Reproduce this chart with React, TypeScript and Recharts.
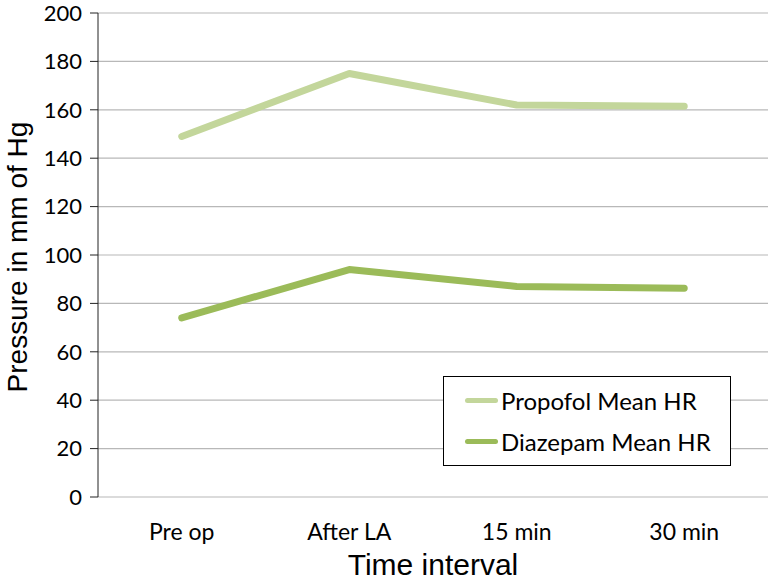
import React from 'react';
import { LineChart, Line, XAxis, YAxis, CartesianGrid, Label } from 'recharts';

const categories = ['Pre op', 'After LA', '15 min', '30 min'];
const propofolMeanHR = [149, 175, 162, 161.5];
const diazepamMeanHR = [74, 94, 87, 86.3];
const yTicks = [0, 20, 40, 60, 80, 100, 120, 140, 160, 180, 200];
const seriesNames = ['Propofol Mean HR', 'Diazepam Mean HR'];

const PROPOFOL_COLOR = '#c3d69b';
const DIAZEPAM_COLOR = '#9bbb59';
const seriesColors = [PROPOFOL_COLOR, DIAZEPAM_COLOR];

const data = categories.map((c, i) => ({
  pos: i + 0.5,
  name: c,
  propofol: propofolMeanHR[i],
  diazepam: diazepamMeanHR[i],
}));

const boundaryTicks = categories.map((_, i) => i).concat([categories.length]);
const centerTicks = categories.map((_, i) => i + 0.5);

const TICK_FONT = 'Lato, "Open Sans", sans-serif';
const TITLE_FONT = 'Arial, "Liberation Sans", sans-serif';

const LegendBox = () => (
  <div
    style={{
      position: 'absolute',
      left: 443,
      top: 376,
      width: 286,
      height: 88,
      border: '1px solid #000',
      background: '#fff',
      fontFamily: TICK_FONT,
      fontSize: 24,
      color: '#000',
    }}
  >
    {seriesNames.map((label, i) => (
      <div
        key={i}
        style={{ position: 'absolute', left: 0, top: i === 0 ? 5 : 46, height: 36, display: 'flex', alignItems: 'center' }}
      >
        <div style={{ width: 33, height: 5, background: seriesColors[i], borderRadius: 3, marginLeft: 21, marginRight: 3 }} />
        <span style={{ whiteSpace: 'nowrap' }}>{label}</span>
      </div>
    ))}
  </div>
);

export default function App() {
  return (
    <div style={{ position: 'absolute', left: 0, top: 0, width: 774, height: 580, background: '#fff' }}>
      <LineChart width={774} height={580} data={data} margin={{ top: 13, right: 6, bottom: 0, left: 0 }}>
        <CartesianGrid horizontal vertical={false} stroke="#b8b8b8" strokeWidth={1.2} />
        <XAxis
          xAxisId="pos"
          dataKey="pos"
          type="number"
          domain={[0, categories.length]}
          ticks={boundaryTicks}
          tick={false}
          tickSize={8}
          axisLine={{ stroke: '#222', strokeWidth: 1 }}
          tickLine={{ stroke: '#222', strokeWidth: 1 }}
          height={0}
        />
        <XAxis
          xAxisId="labels"
          dataKey="pos"
          type="number"
          domain={[0, categories.length]}
          ticks={centerTicks}
          tickFormatter={(v: number) => categories[Math.floor(v)]}
          axisLine={false}
          tickLine={false}
          tickMargin={21}
          tick={{ fill: '#000', fontSize: 23, fontFamily: TICK_FONT }}
          height={83}
        >
          <Label
            content={({ viewBox }: any) => {
              const cx = viewBox.x + viewBox.width / 2;
              return (
                <text x={cx} y={575} textAnchor="middle" style={{ fill: '#000', fontSize: 30, fontFamily: TITLE_FONT }}>
                  Time interval
                </text>
              );
            }}
          />
        </XAxis>
        <YAxis
          domain={[0, 200]}
          ticks={yTicks}
          width={98}
          tickSize={8}
          tickMargin={8}
          interval={0}
          axisLine={{ stroke: '#222', strokeWidth: 1 }}
          tickLine={{ stroke: '#222', strokeWidth: 1 }}
          tick={{ fill: '#000', fontSize: 22, fontFamily: TICK_FONT }}
        >
          <Label
            content={({ viewBox }: any) => {
              const cx = 27;
              const cy = viewBox.y + viewBox.height / 2 + 2;
              return (
                <text
                  x={cx}
                  y={cy}
                  transform={`rotate(-90 ${cx} ${cy})`}
                  textAnchor="middle"
                  style={{ fill: '#000', fontSize: 28, fontFamily: TITLE_FONT }}
                >
                  Pressure in mm of Hg
                </text>
              );
            }}
          />
        </YAxis>
        <Line
          xAxisId="pos"
          type="linear"
          dataKey="propofol"
          name={seriesNames[0]}
          stroke={PROPOFOL_COLOR}
          strokeWidth={7}
          strokeLinecap="round"
          strokeLinejoin="round"
          dot={false}
          isAnimationActive={false}
        />
        <Line
          xAxisId="pos"
          type="linear"
          dataKey="diazepam"
          name={seriesNames[1]}
          stroke={DIAZEPAM_COLOR}
          strokeWidth={7}
          strokeLinecap="round"
          strokeLinejoin="round"
          dot={false}
          isAnimationActive={false}
        />
      </LineChart>
      <LegendBox />
    </div>
  );
}
